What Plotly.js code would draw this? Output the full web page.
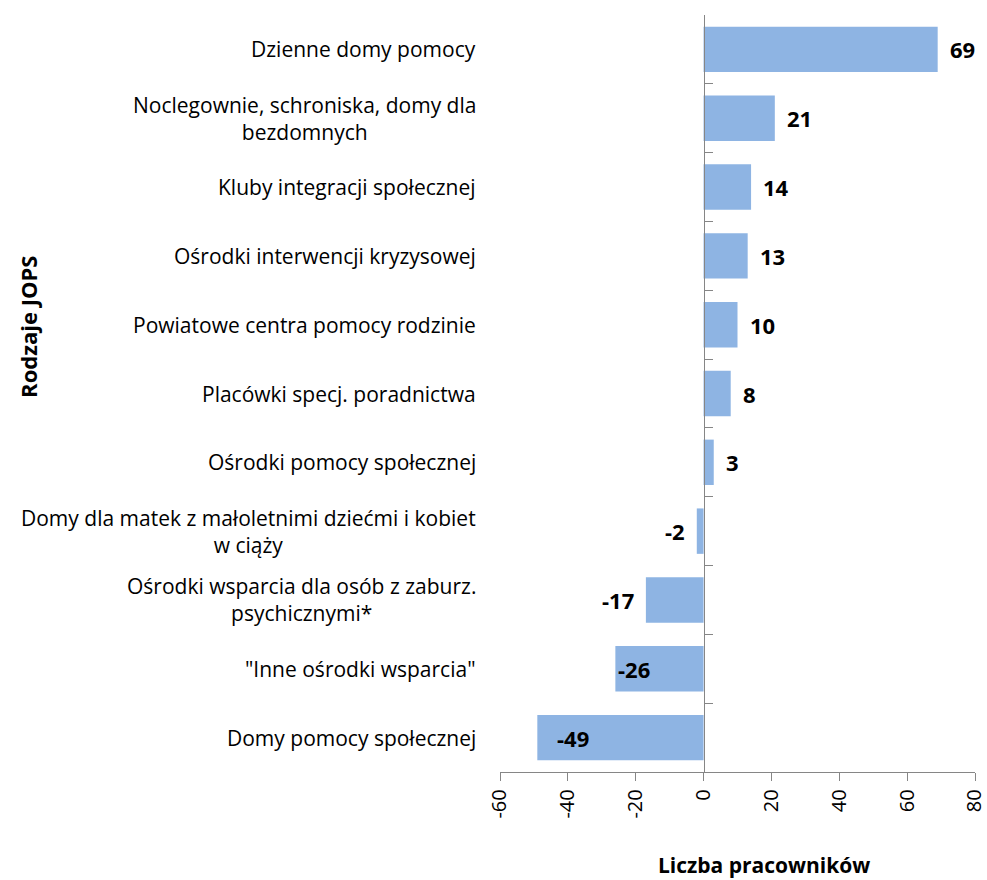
<!DOCTYPE html>
<html>
<head>
<meta charset="utf-8">
<script src="https://cdn.plot.ly/plotly-3.0.1.min.js"></script>
<style>html,body{margin:0;padding:0;background:#fff;}#chart{width:987px;height:880px;}</style>
</head>
<body>
<div id="chart"></div>
<script>
const categories = [
  "Dzienne domy pomocy",
  "Noclegownie, schroniska, domy dla<br>bezdomnych",
  "Kluby integracji społecznej",
  "Ośrodki interwencji kryzysowej",
  "Powiatowe centra pomocy rodzinie",
  "Placówki specj. poradnictwa",
  "Ośrodki pomocy społecznej",
  "Domy dla matek z małoletnimi dziećmi i kobiet<br>w ciąży",
  "Ośrodki wsparcia dla osób z zaburz.<br>psychicznymi*",
  "\"Inne ośrodki wsparcia\"",
  "Domy pomocy społecznej"
];
const values = [69, 21, 14, 13, 10, 8, 3, -2, -17, -26, -49];
const xTicks = [-60, -40, -20, 0, 20, 40, 60, 80];
const xTitle = "Liczba pracowników";
const yTitle = "Rodzaje JOPS";

const FONT = "'Open Sans', sans-serif";
const gray = "#868686";
const xMin = -60, xMax = 80;

const annotations = [];
categories.forEach(c => {
  annotations.push({
    xref: "paper", yref: "y", x: 0, y: c, xanchor: "right", yanchor: "middle",
    xshift: -22, text: c, showarrow: false, align: "center",
    font: {family: FONT, size: 21, color: "#000"}
  });
});
values.forEach((v, i) => {
  let xanchor, xshift;
  if (v >= 0) { xanchor = "left"; xshift = 10; }
  else if (v > -20) { xanchor = "right"; xshift = -10; }
  else { xanchor = "left"; xshift = v < -40 ? 18 : 1; }
  annotations.push({
    xref: "x", yref: "y", x: v, y: categories[i], xanchor: xanchor, yanchor: "middle",
    xshift: xshift, text: "<b>" + v + "</b>", showarrow: false,
    font: {family: FONT, size: 22, color: "#000"}
  });
});
annotations.push({
  xref: "paper", yref: "paper", x: 0.556, y: -0.123, xanchor: "center", yanchor: "middle",
  text: "<b>" + xTitle + "</b>", showarrow: false, font: {family: FONT, size: 21, color: "#000"}
});
annotations.push({
  xref: "paper", yref: "paper", x: -0.9937, y: 0.588, xanchor: "center", yanchor: "middle",
  text: "<b>" + yTitle + "</b>", textangle: -90, showarrow: false, font: {family: FONT, size: 22, color: "#000"}
});

const trace = {
  type: "bar", orientation: "h", x: values, y: categories,
  marker: {color: "#8EB4E3", line: {width: 0}},
  hoverinfo: "x+y"
};

const layout = {
  width: 987, height: 880,
  margin: {l: 500, r: 12, t: 15, b: 108},
  paper_bgcolor: "#fff", plot_bgcolor: "#fff",
  showlegend: false,
  bargap: 0.34,
  font: {family: FONT, size: 18, color: "#000"},
  xaxis: {
    range: [xMin, xMax], tickvals: xTicks, ticktext: xTicks.map(String),
    tickangle: -90, ticks: "outside", ticklen: 8, tickcolor: gray, tickwidth: 1,
    ticklabeloverflow: "allow",
    showline: true, linecolor: gray, linewidth: 1.3,
    showgrid: false, zeroline: false,
    tickfont: {family: FONT, size: 20, color: "#000"}
  },
  yaxis: {
    type: "category", autorange: "reversed",
    anchor: "free", position: (0 - xMin) / (xMax - xMin),
    showline: true, linecolor: gray, linewidth: 1.3,
    ticks: "inside", tickson: "boundaries", ticklen: 8, tickcolor: gray, tickwidth: 1,
    showticklabels: false, showgrid: false, zeroline: false
  },
  annotations: annotations
};

Plotly.newPlot("chart", [trace], layout, {displayModeBar: false, staticPlot: true});
</script>
</body>
</html>
